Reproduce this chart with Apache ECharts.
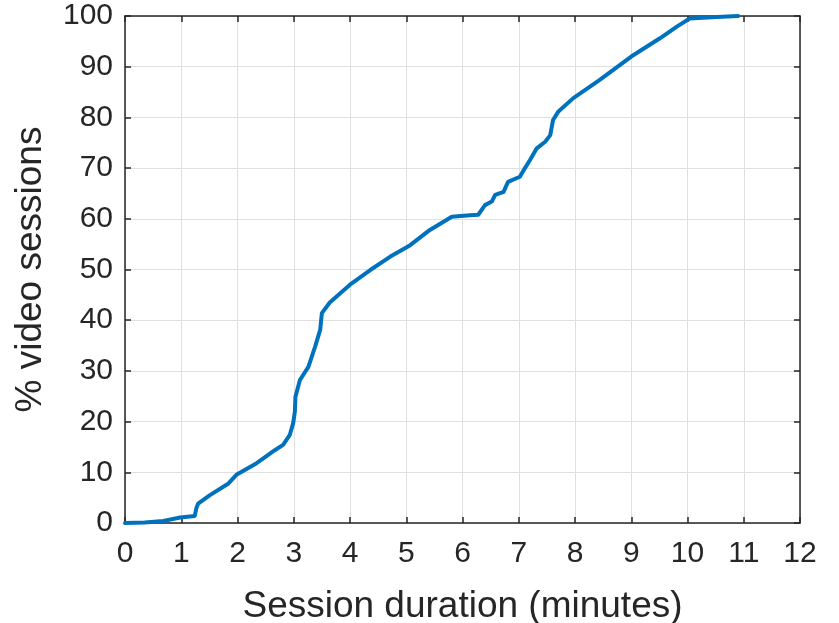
<!DOCTYPE html>
<html>
<head>
<meta charset="utf-8">
<script src="https://cdn.jsdelivr.net/npm/echarts@6/dist/echarts.min.js"></script>
<style>html,body{margin:0;padding:0;background:#fff;}#c{width:839px;height:623px;}</style>
</head>
<body>
<div id="c"></div>
<script>
const durationMin = [0,0.35,0.68,0.98,1.24,1.27,1.3,1.51,1.84,1.98,2.34,2.67,2.81,2.93,2.99,3.02,3.03,3.11,3.26,3.38,3.47,3.50,3.64,4.0,4.36,4.71,5.07,5.42,5.81,6.13,6.28,6.4,6.52,6.58,6.73,6.81,7.02,7.11,7.2,7.32,7.47,7.56,7.61,7.70,7.97,8.44,8.56,9.0,9.51,9.81,10.04,10.52,10.9];
const pctSessions = [0,0.1,0.4,1.1,1.4,3.0,3.8,5.5,7.8,9.5,11.8,14.4,15.4,17.4,19.7,22,24.9,28.2,30.8,34.8,38.1,41.4,43.5,47.0,49.9,52.5,54.8,57.8,60.4,60.7,60.8,62.7,63.4,64.7,65.3,67.3,68.3,70.0,71.6,73.9,75.2,76.5,79.5,81.1,83.8,87.4,88.4,92.0,95.6,97.9,99.5,99.8,100];
const xTitle = 'Session duration (minutes)';
const yTitle = '% video sessions';

const data = durationMin.map((x, i) => [x, pctSessions[i]]);
const FONT = '"Liberation Sans", Arial, Helvetica, sans-serif';
const TXT = '#262626';
const GRID = '#dfdfdf';

const chart = echarts.init(document.getElementById('c'), null, {renderer: 'canvas'});
chart.setOption({
  animation: false,
  backgroundColor: '#ffffff',
  grid: {left: 125, top: 16, right: 39, bottom: 100, containLabel: false, outerBoundsMode: 'none'},
  xAxis: [{
    type: 'value', min: 0, max: 12, interval: 1, position: 'bottom',
    name: xTitle, nameLocation: 'middle', nameGap: 65,
    nameTextStyle: {fontFamily: FONT, fontSize: 37, color: TXT},
    axisLine: {show: true, onZero: false, lineStyle: {color: TXT, width: 1.5}},
    axisTick: {show: true, inside: true, length: 6, lineStyle: {color: TXT, width: 1.5}},
    axisLabel: {fontFamily: FONT, fontSize: 30, color: TXT, margin: 16},
    splitLine: {show: true, lineStyle: {color: GRID, width: 1}}
  }, {
    type: 'value', min: 0, max: 12, interval: 1, position: 'top',
    axisLine: {show: true, onZero: false, lineStyle: {color: TXT, width: 1.5}},
    axisTick: {show: true, inside: true, length: 6, lineStyle: {color: TXT, width: 1.5}},
    axisLabel: {show: false}, splitLine: {show: false}
  }],
  yAxis: [{
    type: 'value', min: 0, max: 100, interval: 10, position: 'left',
    name: yTitle, nameLocation: 'middle', nameGap: 76,
    nameTextStyle: {fontFamily: FONT, fontSize: 37, color: TXT},
    axisLine: {show: true, onZero: false, lineStyle: {color: TXT, width: 1.5}},
    axisTick: {show: true, inside: true, length: 6, lineStyle: {color: TXT, width: 1.5}},
    axisLabel: {fontFamily: FONT, fontSize: 30, color: TXT, margin: 12},
    splitLine: {show: true, lineStyle: {color: GRID, width: 1}}
  }, {
    type: 'value', min: 0, max: 100, interval: 10, position: 'right',
    axisLine: {show: true, onZero: false, lineStyle: {color: TXT, width: 1.5}},
    axisTick: {show: true, inside: true, length: 6, lineStyle: {color: TXT, width: 1.5}},
    axisLabel: {show: false}, splitLine: {show: false}
  }],
  series: [{
    type: 'line', data: data, xAxisIndex: 0, yAxisIndex: 0,
    showSymbol: false, smooth: false,
    lineStyle: {color: '#0072BD', width: 4, join: 'round', cap: 'round'}
  }]
});
</script>
</body>
</html>
